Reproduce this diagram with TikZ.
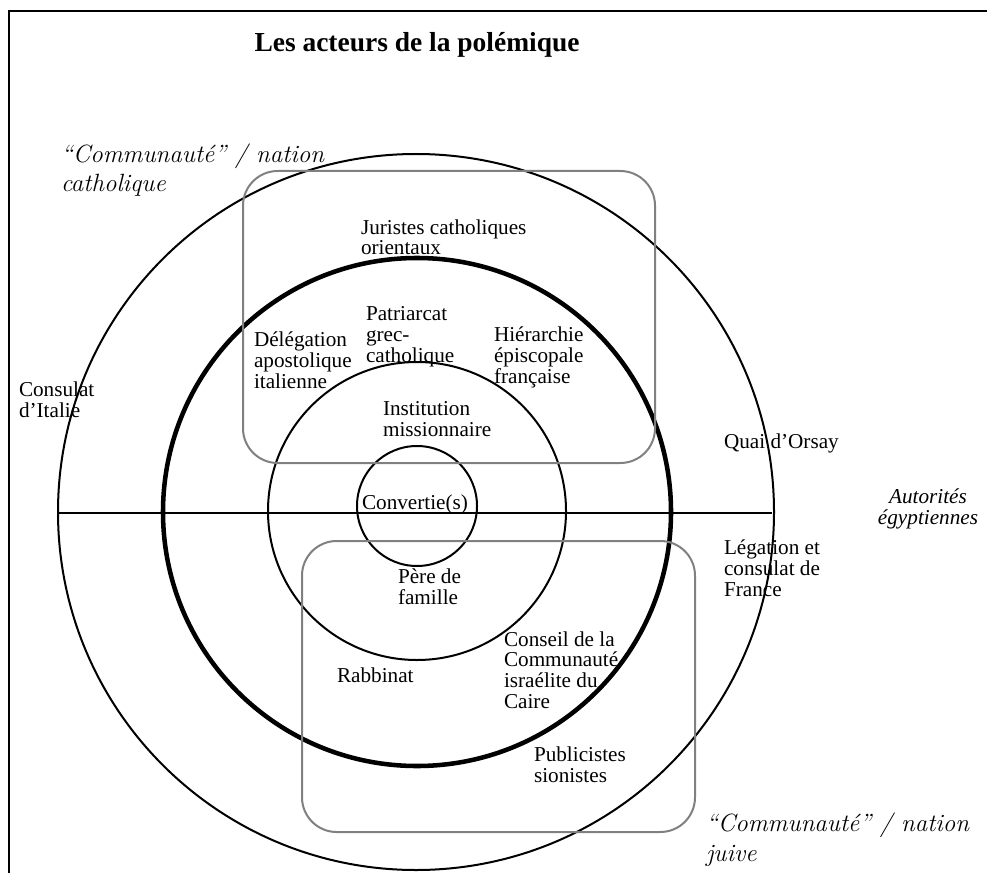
\documentclass[tikz,border=0pt]{standalone}
\usepackage{fontspec}
\newfontfamily\tnr{Liberation Serif}
\definecolor{boxgray}{RGB}{128,128,128}
\tikzset{every picture/.style={line width=1.5pt}}
\tikzset{
  actor/.style={anchor=base west, inner sep=0pt, align=left,
    font=\tnr\fontsize{15.9}{15.5}\selectfont},
  nation/.style={anchor=base west, inner sep=0pt, align=left,
    font=\itshape\fontsize{18.7}{21.8}\selectfont},
  group/.style={draw=boxgray, rounded corners=26pt}
}

\begin{document}
\begin{tikzpicture}[x=0.75pt,y=0.75pt,yscale=-1,xscale=1]
\useasboundingbox (0,0) rectangle (987,873);

% frame
\draw   (9,873) -- (9,11) -- (987,11) ;

% circles
\draw   (416,512) circle [radius=268.5pt] ;
\draw  [line width=3.4pt] (417,512) circle [radius=190.5pt] ;
\draw   (417,511) circle [radius=111.75pt] ;
\draw   (417,506) circle [radius=45pt] ;
\draw   (58,513) -- (772,513) ;

% communities
\draw  [group] (243,171) rectangle (655,463) ;
\draw  [group] (302,541) rectangle (695,832) ;

% labels (anchored on the last line)
\draw (417,52) node [anchor=base] [inner sep=0pt] (title) {\tnr\fontsize{20.6}{25}\selectfont\bfseries Les acteurs de la polémique};
\draw (60,192) node [nation] (catholic) {“Communauté” / nation\\catholique};
\draw (705,861) node [nation] (jewish) {“Communauté” / nation\\juive};
\draw (928,524) node [anchor=base, inner sep=0pt, align=center, font=\tnr\itshape\fontsize{15.9}{15.7}\selectfont] (egypt) {Autorités\\égyptiennes};

\draw (360,255) node [actor] (juristes) {Juristes catholiques\\orientaux};
\draw (365,362) node [actor] (patriarcat) {Patriarcat\\grec-\\catholique};
\draw (253,388) node [actor] (delegation) {Délégation\\apostolique\\italienne};
\draw (493,383) node [actor] (hierarchie) {Hiérarchie\\épiscopale\\française};
\draw (382,436) node [actor] (institution) {Institution\\missionnaire};
\draw (18,417) node [actor] (italie) {Consulat\\d’Italie};
\draw (723,448) node [actor] (orsay) {Quai d’Orsay};
\draw (415,509) node [anchor=base, inner sep=0pt, font=\tnr\fontsize{15.9}{15.5}\selectfont] (convertie) {Convertie(s)};
\draw (397,604) node [actor] (pere) {Père de\\famille};
\draw (723,596) node [actor] (legation) {Légation et\\consulat de\\France};
\draw (336,682) node [actor] (rabbinat) {Rabbinat};
\draw (503,708) node [actor] (conseil) {Conseil de la\\Communauté\\israélite du\\Caire};
\draw (533,782) node [actor] (publicistes) {Publicistes\\sionistes};

\end{tikzpicture}
\end{document}
